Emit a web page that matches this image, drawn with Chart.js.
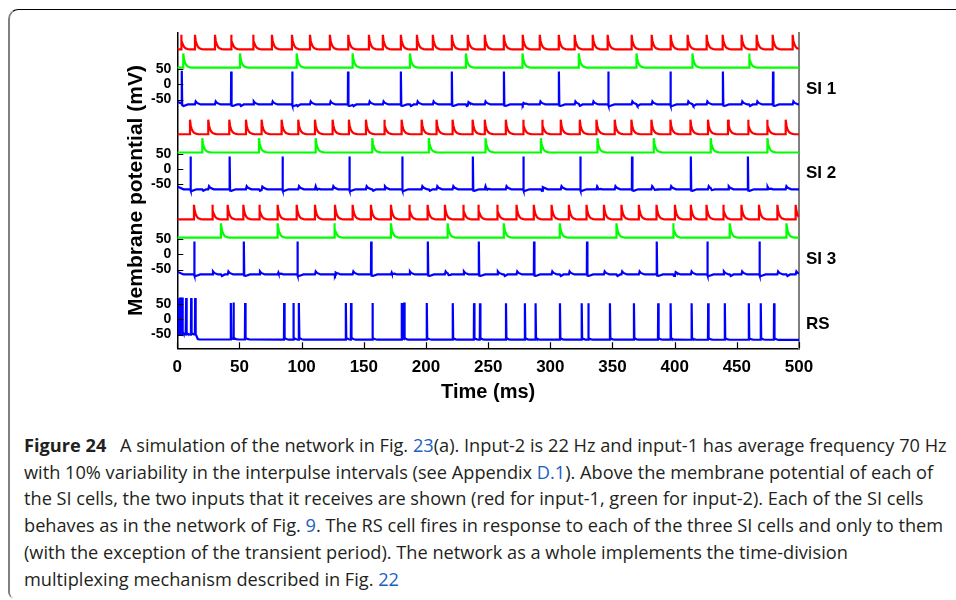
<!DOCTYPE html>
<html>
<head>
<meta charset="utf-8">
<script src="https://cdn.jsdelivr.net/npm/chart.js@4.4.0/dist/chart.umd.min.js"></script>
<style>
html, body { margin: 0; padding: 0; background: #fff; }
body { width: 956px; height: 600px; position: relative; overflow: hidden; }
#frame { position: absolute; left: 8px; top: 9px; width: 960px; height: 588px;
  border-top: 1.5px solid #000; border-left: 2px solid #808080;
  border-top-left-radius: 10px; border-bottom-left-radius: 6px; }
#chart { position: absolute; left: 0; top: 0; }
#caption { position: absolute; left: 24px; top: 432px; font-family: "Open Sans", "Noto Sans", sans-serif;
  font-size: 18.2px; line-height: 26.7px; color: #231f20; white-space: nowrap; }
#caption b { font-weight: 700; margin-right: 9px; }
#caption a { color: #1b5fc1; text-decoration: none; }
</style>
</head>
<body>
<div id="frame"></div>
<canvas id="chart" width="956" height="420"></canvas>
<div id="caption">
<div><b>Figure 24</b> A simulation of the network in Fig. <a>23</a>(a). Input-2 is 22 Hz and input-1 has average frequency 70 Hz</div>
<div>with 10% variability in the interpulse intervals (see Appendix <a>D.1</a>). Above the membrane potential of each of</div>
<div>the SI cells, the two inputs that it receives are shown (red for input-1, green for input-2). Each of the SI cells</div>
<div>behaves as in the network of Fig. <a>9</a>. The RS cell fires in response to each of the three SI cells and only to them</div>
<div>(with the exception of the transient period). The network as a whole implements the time-division</div>
<div>multiplexing mechanism described in Fig. <a>22</a></div>
</div>
<script>
// tick labels
var timeTicks = [0, 50, 100, 150, 200, 250, 300, 350, 400, 450, 500];
var mvTicks = [-50, 0, 50];
var groupNames = ['SI 1', 'SI 2', 'SI 3', 'RS'];

// spike / pulse times (ms)
var si1Input1 = [3.0, 14.2, 30.3, 43.2, 60.9, 76.1, 92.2, 106.7, 122.7, 137.5, 154.1, 165.3, 179.8, 192.7, 205.5, 220.8, 233.6, 247.3, 262.6, 277.8, 291.5, 306.8, 319.6, 334.1, 346.1, 365.4, 381.5, 396.8, 410.4, 425.7, 438.6, 453.8, 465.9, 478.8, 494.9];
var si1Input2 = [4.8, 50.4, 96.0, 141.0, 187.1, 232.1, 277.6, 322.9, 369.3, 414.3, 459.8];
var si1Spikes = [3.5, 43.2, 92.3, 137.2, 179.7, 220.7, 262.6, 306.8, 346.5, 396.5, 438.7, 479.0];

var si2Input1 = [10.2, 24.9, 41.8, 55.2, 67.8, 83.9, 97.3, 110.7, 124.9, 138.0, 151.7, 166.4, 180.4, 196.5, 208.5, 221.4, 237.5, 247.3, 264.2, 278.1, 293.4, 308.4, 323.7, 337.1, 351.8, 365.2, 381.3, 396.6, 412.7, 426.8, 442.9, 459.0, 474.3, 489.3];
var si2Input2 = [20.1, 65.7, 111.3, 156.8, 202.3, 247.9, 292.4, 337.9, 383.2, 429.0, 474.6];
var si2Spikes = [10.5, 42.0, 84.5, 138.3, 180.8, 237.6, 278.2, 324.0, 365.6, 412.9, 458.8];

var si3Input1 = [13.4, 28.1, 40.5, 53.1, 65.9, 80.7, 96.0, 110.7, 126.8, 141.0, 155.7, 171.8, 186.5, 201.3, 215.2, 229.9, 242.0, 257.2, 272.8, 286.7, 301.0, 314.9, 329.1, 343.1, 357.2, 371.2, 385.4, 400.2, 413.0, 425.6, 439.0, 453.7, 467.8, 482.6, 497.3];
var si3Input2 = [35.1, 80.7, 126.2, 171.8, 217.4, 262.6, 307.6, 353.2, 398.7, 444.3, 489.9];
var si3Spikes = [13.5, 53.4, 96.5, 155.8, 201.4, 242.4, 286.8, 329.4, 385.5, 426.2, 468.1];

var rsSpikes = [0.8, 2.2, 4.0, 7.0, 11.0, 14.2, 42.9, 45.0, 54.4, 85.8, 93.2, 97.7, 135.4, 139.6, 156.8, 180.4, 182.2, 200.5, 221.4, 238.5, 243.3, 264.2, 279.4, 288.0, 307.6, 325.1, 330.4, 347.8, 367.1, 386.6, 396.6, 413.5, 426.8, 440.2, 459.5, 469.1, 479.8];

// resting levels (mV) over time
var siRest = [[0, -57], [5, -66], [500, -66]];
var rsRest = [[0, -50], [14.6, -50], [16.5, -66], [500, -67]];

// shapes of the events (ms offset, value)
var pulseShape = [[-0.01, 0], [0, 1], [0.6, 0.6], [1.4, 0.35], [2.4, 0.18], [3.6, 0.08], [5.5, 0.02], [7, 0]];
var siSpikeShape = [[-0.05, 0], [0.1, 108], [0.45, -4], [1.5, -5], [5, 0]];
var rsSpikeShape = [[-0.05, 0], [0.15, 120], [0.5, 6], [1.2, 3], [2.5, 1], [4, 0]];
var epspShape = [[0, 0], [0.6, 10], [1.6, 5], [4.5, 0]];
var ipspShape = [[0, 0], [0.8, -5], [3, 0]];

var groupOffset = [773, 494, 214, 0];
var FONT = '"Liberation Sans", Arial, sans-serif';

function interp(pts, x) {
    if (x <= pts[0][0]) return pts[0][1];
    for (var i = 1; i < pts.length; i++) {
        if (x <= pts[i][0]) {
            var a = pts[i - 1], b = pts[i];
            return a[1] + (b[1] - a[1]) * (x - a[0]) / (b[0] - a[0]);
        }
    }
    return pts[pts.length - 1][1];
}

function kernel(shape, dt) {
    if (dt <= shape[0][0] || dt >= shape[shape.length - 1][0]) return 0;
    return interp(shape, dt);
}

function buildTrace(rest, events, offset) {
    var xs = {};
    xs[0] = true; xs[500] = true;
    rest.forEach(function (p) { xs[p[0]] = true; });
    events.forEach(function (ev) {
        ev.times.forEach(function (t) {
            ev.shape.forEach(function (p) {
                var x = +(t + p[0]).toFixed(3);
                if (x >= 0 && x <= 500) xs[x] = true;
            });
        });
    });
    var sorted = Object.keys(xs).map(Number).sort(function (a, b) { return a - b; });
    return sorted.map(function (x) {
        var v = interp(rest, x);
        events.forEach(function (ev) {
            ev.times.forEach(function (t) { v += ev.scale * kernel(ev.shape, x - t); });
        });
        return { x: x, y: offset + v };
    });
}

function notNear(times, spikes, gap) {
    return times.filter(function (t) {
        return !spikes.some(function (s) { return Math.abs(s - t) < gap; });
    });
}

function pulseTrain(times, offset, base, amp) {
    return buildTrace([[0, base], [500, base]], [{ times: times, shape: pulseShape, scale: amp }], offset);
}

function siTrace(in1, in2, spikes, offset) {
    return buildTrace(siRest, [
        { times: spikes, shape: siSpikeShape, scale: 1 },
        { times: notNear(in1, spikes, 3.5), shape: epspShape, scale: 1 },
        { times: notNear(in2, spikes, 1.5), shape: ipspShape, scale: 1 }
    ], offset);
}

var cells = [
    [si1Input1, si1Input2, si1Spikes],
    [si2Input1, si2Input2, si2Spikes],
    [si3Input1, si3Input2, si3Spikes]
];

var datasets = [];
cells.forEach(function (c, i) {
    var off = groupOffset[i];
    datasets.push({ data: pulseTrain(c[0], off, 115, 48), borderColor: '#ff0000' });
    datasets.push({ data: pulseTrain(c[1], off, 55, 47), borderColor: '#00ff00' });
    datasets.push({ data: siTrace(c[0], c[1], c[2], off), borderColor: '#0000ff' });
});
datasets.push({ data: buildTrace(rsRest, [{ times: rsSpikes, shape: rsSpikeShape, scale: 1 }], groupOffset[3]), borderColor: '#0000ff' });

// left ticks: 50 / 0 / -50 for every cell
var yTickValues = [], yTickLabels = [];
groupOffset.slice().reverse().forEach(function (off) {
    mvTicks.forEach(function (m) { yTickValues.push(off + m); yTickLabels.push(String(m)); });
});
var nameValues = groupOffset.map(function (off) { return off - 15; });

var inwardTicks = {
    id: 'inwardTicks',
    afterDraw: function (chart) {
        var ctx = chart.ctx, xs = chart.scales.x, ys = chart.scales.y;
        ctx.save();
        ctx.strokeStyle = '#000';
        ctx.lineWidth = 1.2;
        ctx.beginPath();
        xs.ticks.forEach(function (t) {
            var px = Math.round(xs.getPixelForValue(t.value)) + 0.5;
            ctx.moveTo(px, xs.top);
            ctx.lineTo(px, xs.top - 6);
        });
        ys.ticks.forEach(function (t) {
            var py = Math.round(ys.getPixelForValue(t.value)) + 0.5;
            ctx.moveTo(ys.right, py);
            ctx.lineTo(ys.right + 6, py);
        });
        ctx.stroke();
        ctx.restore();
    }
};

var ctx = document.getElementById('chart').getContext('2d');
new Chart(ctx, {
    type: 'line',
    data: { datasets: datasets },
    options: {
        responsive: false,
        animation: false,
        events: [],
        layout: { padding: { left: 100, right: 97, top: 32.7, bottom: 10 } },
        elements: { point: { radius: 0 }, line: { borderWidth: 2.2, tension: 0 } },
        plugins: { legend: { display: false }, tooltip: { enabled: false } },
        scales: {
            x: {
                type: 'linear', min: 0, max: 500,
                afterBuildTicks: function (s) { s.ticks = timeTicks.map(function (v) { return { value: v }; }); },
                afterFit: function (s) { s.height = 61.7; },
                grid: { drawOnChartArea: false, drawTicks: false },
                border: { color: '#000', width: 1.5 },
                ticks: { color: '#000', padding: 9, maxRotation: 0, autoSkip: false,
                    font: { family: FONT, size: 17, weight: 'bold' } },
                title: { display: true, text: 'Time (ms)', color: '#000',
                    font: { family: FONT, size: 20, weight: 'bold' }, padding: { top: 0, bottom: 6 } }
            },
            y: {
                type: 'linear', position: 'left', min: -95, max: 943,
                afterBuildTicks: function (s) { s.ticks = yTickValues.map(function (v) { return { value: v }; }); },
                afterFit: function (s) { s.width = 77.3; },
                grid: { drawOnChartArea: false, drawTicks: false },
                border: { color: '#000', width: 1.5 },
                ticks: { color: '#000', padding: 6, autoSkip: false,
                    font: { family: FONT, size: 14, weight: 'bold' },
                    callback: function (v, i) { return yTickLabels[i]; } },
                title: { display: true, text: 'Membrane potential (mV)', color: '#000',
                    font: { family: FONT, size: 21, weight: 'bold' }, padding: { top: 24, bottom: 0 } }
            },
            yR: {
                type: 'linear', position: 'right', min: -95, max: 943,
                afterBuildTicks: function (s) { s.ticks = nameValues.map(function (v) { return { value: v }; }); },
                afterFit: function (s) { s.width = 60; },
                grid: { drawOnChartArea: false, drawTicks: false },
                border: { color: '#808080', width: 2 },
                ticks: { color: '#000', padding: 7, autoSkip: false,
                    font: { family: FONT, size: 17, weight: 'bold' },
                    callback: function (v, i) { return groupNames[i]; } }
            }
        }
    },
    plugins: [inwardTicks]
});
</script>
</body>
</html>
